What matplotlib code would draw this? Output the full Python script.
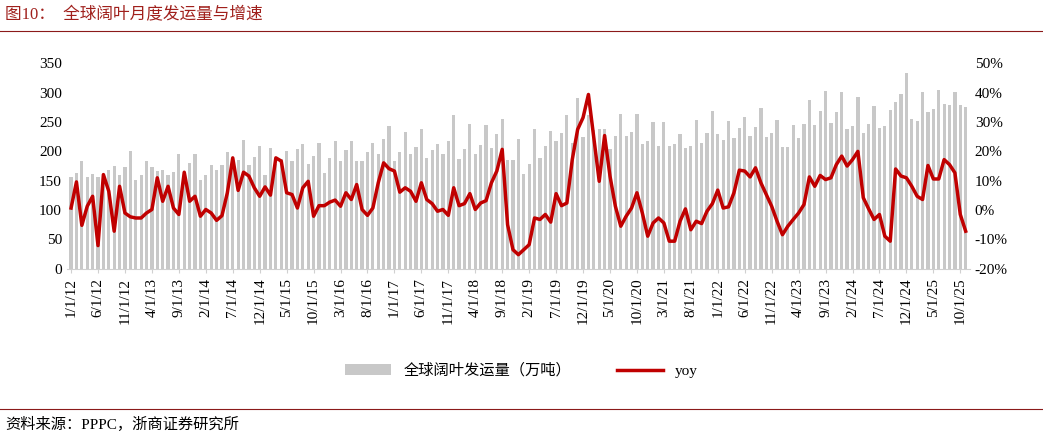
import matplotlib.pyplot as plt
import pandas as pd

plt.rcParams['font.family'] = ['Liberation Serif', 'Noto Sans CJK SC']

# Data (monthly, 2012-01 .. 2025-11)
months = pd.date_range('2012-01-01', periods=167, freq='MS')
volume = [156, 163, 184, 156, 162, 157, 160, 168, 175, 160, 173, 200,
          152, 160, 184, 173, 167, 169, 160, 165, 196, 165, 181, 196,
          152, 159, 177, 169, 177, 199, 171, 186, 219, 177, 190, 210,
          159, 206, 178, 187, 201, 183, 204, 213, 179, 192, 214, 163,
          189, 218, 184, 203, 218, 183,
          183, 199, 214, 196, 221, 244, 184, 199, 233, 196, 208, 238,
          189, 203, 213, 196, 217, 262, 187, 204, 246, 196, 211, 245,
          206, 229, 256, 186, 186, 221, 161, 179, 239, 189, 209, 235,
          217, 232, 262, 214, 291, 224, 262, 237, 239, 239, 204, 227,
          264, 227, 233, 263, 213, 218, 250, 210,
          250, 210, 212, 230, 205, 210, 253, 214, 231, 268, 229, 220,
          252, 223, 240, 259, 227, 241, 274, 225, 231, 254, 208, 208,
          245, 222, 247, 287, 245, 268, 303, 248, 267, 301, 238, 243,
          293, 231, 247, 277, 240, 243, 270, 284, 298, 333, 255, 252,
          301, 267, 272, 305, 281, 279, 301, 279, 276]
yoy = [0.7, 9.6, -5.2, 1.3, 4.7, -12.1, 12.1, 6.4, -7.2, 8.1, -1.0, -2.3,
       -2.7, -2.7, -1.0, 0.2, 11.0, 3.0, 8.1, 0.7, -1.5, 12.9, 3.0, 4.7,
       -2.1, 0.2, -1.0, -3.5, -1.9, 5.9, 17.8, 6.7, 12.9, 11.6, 7.6, 4.7,
       7.9, 5.1, 17.8, 16.7, 5.9, 5.3, 0.7, 7.6, 9.8, -2.1, 1.5, 1.5,
       2.7, 3.4, 1.3, 5.9, 3.6, 8.7,
       0.2, -1.8, 0.7, 9.3, 16.1, 14.1, 13.3, 6.1, 7.6, 6.4, 3.0, 9.3,
       3.6, 2.2, -0.4, 0.2, -1.8, 7.6, 1.5, 2.2, 5.6, 0.2, 2.4, 3.2,
       9.3, 13.3, 20.7, -5.0, -13.5, -15.2, -13.5, -11.8, -2.7, -3.2, -1.5, -4.1,
       5.6, 1.5, 2.4, 17.2, 27.5, 31.5, 39.4, 24.6, 9.8, 25.4, 11.6, 1.3,
       -5.5, -2.1, 0.7, 5.9, -1.0, -8.9, -4.4, -2.7,
       -4.4, -10.6, -10.6, -3.8, 0.4, -6.7, -3.8, -4.6, -0.4, 2.2, 6.8, 0.7,
       1.1, 5.9, 13.6, 13.3, 11.3, 14.4, 9.3, 5.3, 1.3, -3.8, -8.4, -5.5,
       -3.2, -1.0, 1.9, 11.3, 8.1, 11.8, 10.4, 11.0, 15.5, 18.4, 15.0, 17.2,
       20.0, 4.2, 0.4, -3.2, -1.5, -8.9, -10.6, 14.0, 11.6, 11.0, 8.1, 4.7,
       3.6, 15.2, 10.6, 10.6, 17.2, 15.5, 12.7, -1.5, -7.2]

labels = [f'{d.month}/1/{d.year % 100}' for d in months]
x = list(range(len(months)))

fig = plt.figure(figsize=(10.43, 4.37), dpi=100)
ax = fig.add_axes([0.064, 0.385, 0.866, 0.47])
ax.bar(x, volume, width=0.6, color='#c8c8c8', label='全球阔叶发运量（万吨）')
ax.set_ylim(0, 350)
ax.set_yticks(range(0, 351, 50))
ax.set_xlim(-0.8, len(x) - 0.2)
ax.set_xticks(x[::5])
ax.set_xticklabels(labels[::5], rotation=90, fontsize=11)
ax.tick_params(axis='y', length=0, labelsize=11)
ax.tick_params(axis='x', length=3, color='#d0d0d0')
for s in ['top', 'left', 'right']:
    ax.spines[s].set_visible(False)
ax.spines['bottom'].set_color('#d0d0d0')

ax2 = ax.twinx()
ax2.plot(x, yoy, color='#c00000', linewidth=2.5, label='yoy')
ax2.set_ylim(-20, 50)
ax2.set_yticks(range(-20, 51, 10))
ax2.set_yticklabels([f'{v}%' for v in range(-20, 51, 10)], fontsize=11)
ax2.tick_params(axis='y', length=0)
for s in ax2.spines.values():
    s.set_visible(False)

h1, l1 = ax.get_legend_handles_labels()
h2, l2 = ax2.get_legend_handles_labels()
fig.legend(h1 + h2, l1 + l2, loc='center', bbox_to_anchor=(0.5, 0.152), ncol=2,
           frameon=False, fontsize=11, handlelength=3, columnspacing=3)

fig.text(0.005, 0.965, '图10：  全球阔叶月度发运量与增速', color='#a0201c', fontsize=12, va='center')
fig.add_artist(plt.Line2D([0, 1], [0.93, 0.93], color='#8b1a1a', linewidth=0.8))
fig.add_artist(plt.Line2D([0, 1], [0.063, 0.063], color='#8b1a1a', linewidth=0.8))
fig.text(0.005, 0.028, '资料来源：PPPC，浙商证券研究所', fontsize=11, va='center')

fig.savefig('out.png', dpi=100)
